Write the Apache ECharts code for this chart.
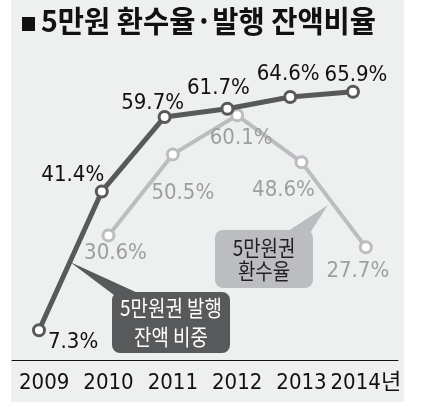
<!DOCTYPE html>
<html>
<head>
<meta charset="utf-8">
<script src="https://cdn.jsdelivr.net/npm/echarts@6/dist/echarts.min.js"></script>
<style>
  html, body { margin: 0; padding: 0; background: #fff; }
  #chart { width: 427px; height: 402px; }
</style>
</head>
<body>
<div id="chart"></div>
<script>
var years = ['2009', '2010', '2011', '2012', '2013', '2014년'];
var issueShare = [7.3, 41.4, 59.7, 61.7, 64.6, 65.9];     // 5만원권 발행 잔액 비중
var returnRate = [null, 30.6, 50.5, 60.1, 48.6, 27.7];    // 5만원권 환수율

// label nudges (layout only)
var darkPos = ['right', 'top', 'top', 'top', 'top', 'top'];
var darkOff = [[-3, 12], [-29, 7], [-12, 9], [-9, 2], [-2, 0], [3, 7]];
var lightOff = [[0, 0], [7, -5], [10, 16], [4, 0], [-18, 5], [-8, 1]];

var NUM_FONT = "'DejaVu Sans Condensed', 'Noto Sans CJK KR', sans-serif";
var KR_FONT = "'Noto Sans CJK KR', sans-serif";

var darkData = issueShare.map(function (v, i) {
  return {
    value: v,
    label: { position: darkPos[i], offset: darkOff[i] }
  };
});
var lightData = returnRate.map(function (v, i) {
  return {
    value: v == null ? '-' : v,
    label: { offset: lightOff[i] }
  };
});

var option = {
  animation: false,
  grid: [
    { left: 12, right: 29, top: 75, bottom: 42 },
    { left: 39, right: 74, top: 75, bottom: 42 }
  ],
  xAxis: [
    {
      type: 'category', gridIndex: 0, data: years, boundaryGap: true,
      axisTick: { show: false },
      axisLine: { lineStyle: { color: '#111', width: 1 } },
      axisLabel: { fontSize: 22, color: '#111', margin: 12, fontFamily: NUM_FONT, interval: 0 },
      splitLine: { show: false }
    },
    {
      type: 'category', gridIndex: 1, data: years, boundaryGap: false, show: false
    }
  ],
  yAxis: [
    { type: 'value', gridIndex: 0, min: 0, max: 70, show: false, splitLine: { show: false } },
    { type: 'value', gridIndex: 1, min: 0, max: 70, show: false, splitLine: { show: false } }
  ],
  series: [
    {
      name: '5만원권 환수율',
      type: 'line',
      xAxisIndex: 0, yAxisIndex: 0,
      data: lightData,
      z: 2,
      symbol: 'circle', symbolSize: 11,
      lineStyle: { color: '#bcbdc0', width: 4 },
      itemStyle: { color: '#fff', borderColor: '#bcbdc0', borderWidth: 3 },
      label: {
        show: true, position: 'bottom', distance: 5,
        formatter: '{c}%', fontSize: 22, color: '#9d9ea0', fontFamily: NUM_FONT
      }
    },
    {
      name: '5만원권 발행 잔액 비중',
      type: 'line',
      xAxisIndex: 1, yAxisIndex: 1,
      data: darkData,
      z: 3,
      symbol: 'circle', symbolSize: 11,
      lineStyle: { color: '#58595b', width: 5 },
      itemStyle: { color: '#fff', borderColor: '#58595b', borderWidth: 3 },
      label: {
        show: true, distance: 5,
        formatter: '{c}%', fontSize: 22, color: '#111', fontFamily: NUM_FONT
      }
    }
  ],
  graphic: [
    { type: 'rect', z: -10, shape: { x: 11, y: 0, width: 393, height: 402 }, style: { fill: '#eeefef' } },
    { type: 'rect', z: 10, shape: { x: 22, y: 17, width: 13, height: 14 }, style: { fill: '#111' } },
    {
      type: 'text', x: 41, y: 6, scaleX: 0.95, z: 10,
      style: { text: '5만원 환수율·발행 잔액비율', font: 'bold 30px ' + KR_FONT, fill: '#111', textAlign: 'left', textVerticalAlign: 'top' }
    },
    // issue share callout
    { type: 'polygon', z: 10, shape: { points: [[70, 262], [140, 294], [118, 298]] }, style: { fill: '#58595b' } },
    { type: 'rect', z: 10, shape: { x: 112, y: 292, width: 118, height: 61, r: 8 }, style: { fill: '#58595b' } },
    {
      type: 'text', x: 171, y: 308, scaleX: 0.86, z: 11,
      style: { text: '5만원권 발행', font: '22px ' + KR_FONT, fill: '#fff', textAlign: 'center', textVerticalAlign: 'middle' }
    },
    {
      type: 'text', x: 171, y: 337, scaleX: 0.86, z: 11,
      style: { text: '잔액 비중', font: '22px ' + KR_FONT, fill: '#fff', textAlign: 'center', textVerticalAlign: 'middle' }
    },
    // return rate callout
    { type: 'polygon', z: 10, shape: { points: [[328, 205], [310, 233], [285, 233]] }, style: { fill: '#bcbdc0' } },
    { type: 'rect', z: 10, shape: { x: 215, y: 230, width: 98, height: 58, r: 8 }, style: { fill: '#bcbdc0' } },
    {
      type: 'text', x: 264, y: 248, scaleX: 0.86, z: 11,
      style: { text: '5만원권', font: '22px ' + KR_FONT, fill: '#231f20', textAlign: 'center', textVerticalAlign: 'middle' }
    },
    {
      type: 'text', x: 264, y: 271, scaleX: 0.86, z: 11,
      style: { text: '환수율', font: '22px ' + KR_FONT, fill: '#231f20', textAlign: 'center', textVerticalAlign: 'middle' }
    }
  ]
};

var myChart = echarts.init(document.getElementById('chart'));
myChart.setOption(option);
</script>
</body>
</html>
